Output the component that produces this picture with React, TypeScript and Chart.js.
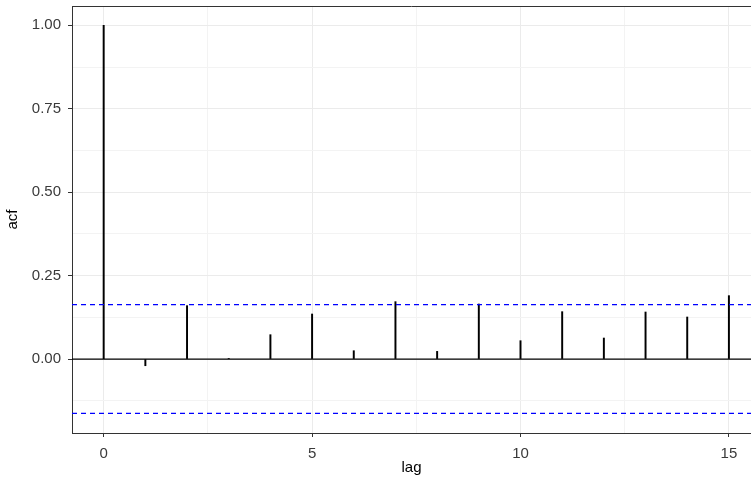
import React, { useEffect, useRef } from 'react';
import { Chart, registerables } from 'chart.js';

Chart.register(...registerables);

const lags = [0, 1, 2, 3, 4, 5, 6, 7, 8, 9, 10, 11, 12, 13, 14, 15];
const acfValues = [1.0, -0.02, 0.16, 0.002, 0.073, 0.135, 0.025, 0.172, 0.023, 0.165, 0.055, 0.142, 0.063, 0.141, 0.126, 0.19];
const ciBound = 0.163;
const xMajorTicks = [0, 5, 10, 15];
const xMinorTicks = [2.5, 7.5, 12.5];
const yMajorTicks = [0, 0.25, 0.5, 0.75, 1.0];
const yMinorTicks = [-0.125, 0.125, 0.375, 0.625, 0.875];
const xLimits = [-0.76, 15.53];
const yLimits = [-0.2216, 1.058];

const FONT = '"Liberation Sans", Arial, Helvetica, sans-serif';

const topBorder = {
  id: 'topBorder',
  afterDraw(chart: any) {
    const { ctx, chartArea } = chart;
    ctx.save();
    ctx.strokeStyle = '#333333';
    ctx.lineWidth = 1;
    ctx.beginPath();
    ctx.moveTo(chartArea.left, chartArea.top + 0.5);
    ctx.lineTo(chartArea.right, chartArea.top + 0.5);
    ctx.stroke();
    ctx.restore();
  },
};

export default function App() {
  const ref = useRef<HTMLCanvasElement | null>(null);
  useEffect(() => {
    if (!ref.current) return;
    const isMajorX = (v: number) => xMajorTicks.includes(v);
    const isMajorY = (v: number) => yMajorTicks.some((t) => Math.abs(t - v) < 1e-9);
    const chart = new Chart(ref.current, {
      type: 'bar',
      data: {
        datasets: [
          {
            type: 'line',
            data: [
              { x: xLimits[0], y: ciBound },
              { x: xLimits[1], y: ciBound },
            ],
            borderColor: '#0000ff',
            borderWidth: 1.2,
            borderDash: [5, 4],
            pointRadius: 0,
            order: 0,
          },
          {
            type: 'line',
            data: [
              { x: xLimits[0], y: -ciBound },
              { x: xLimits[1], y: -ciBound },
            ],
            borderColor: '#0000ff',
            borderWidth: 1.2,
            borderDash: [5, 4],
            pointRadius: 0,
            order: 0,
          },
          {
            type: 'line',
            data: [
              { x: xLimits[0], y: 0 },
              { x: xLimits[1], y: 0 },
            ],
            borderColor: '#000000',
            borderWidth: 1.2,
            pointRadius: 0,
            order: 1,
          },
          {
            type: 'bar',
            data: lags.map((l, i) => ({ x: l, y: acfValues[i] })),
            backgroundColor: '#000000',
            borderWidth: 0,
            barThickness: 1.3,
            order: 2,
          } as any,
        ],
      },
      options: {
        responsive: false,
        animation: false,
        layout: { padding: { top: 6, left: 0, right: 0, bottom: 0 } },
        plugins: { legend: { display: false }, tooltip: { enabled: false } },
        scales: {
          x: {
            type: 'linear',
            min: xLimits[0],
            max: xLimits[1],
            offset: false,
            afterBuildTicks: (s: any) => {
              s.ticks = [...xMajorTicks, ...xMinorTicks].sort((a, b) => a - b).map((v) => ({ value: v }));
            },
            afterFit: (s: any) => {
              s.height = 49;
              s.paddingLeft = 0;
              s.paddingRight = 0;
            },
            grid: {
              offset: false,
              color: (c: any) => (c.tick && isMajorX(c.tick.value) ? '#ebebeb' : '#f3f3f3'),
              lineWidth: 1,
              tickLength: 4,
              tickColor: (c: any) => (c.tick && isMajorX(c.tick.value) ? '#333333' : 'rgba(0,0,0,0)'),
            },
            border: { display: true, color: '#333333', width: 1 },
            ticks: {
              autoSkip: false,
              maxRotation: 0,
              padding: 8,
              color: '#3a3a3a',
              font: { family: FONT, size: 15 },
              callback: (v: any) => (isMajorX(Number(v)) ? String(v) : ''),
            },
            title: {
              display: true,
              text: 'lag',
              color: '#000000',
              font: { family: FONT, size: 15 },
              padding: { top: 0, bottom: 5 },
            },
          },
          y: {
            type: 'linear',
            min: yLimits[0],
            max: yLimits[1],
            afterBuildTicks: (s: any) => {
              s.ticks = [...yMajorTicks, ...yMinorTicks].sort((a, b) => a - b).map((v) => ({ value: v }));
            },
            afterFit: (s: any) => {
              s.width = 72;
              s.paddingTop = 0;
              s.paddingBottom = 0;
            },
            grid: {
              color: (c: any) => (c.tick && isMajorY(c.tick.value) ? '#ebebeb' : '#f3f3f3'),
              lineWidth: 1,
              tickLength: 4,
              tickColor: (c: any) => (c.tick && isMajorY(c.tick.value) ? '#333333' : 'rgba(0,0,0,0)'),
            },
            border: { display: true, color: '#333333', width: 1 },
            ticks: {
              autoSkip: false,
              padding: 7,
              color: '#3a3a3a',
              font: { family: FONT, size: 15 },
              callback: (v: any) => (isMajorY(Number(v)) ? Number(v).toFixed(2) : ''),
            },
            title: {
              display: true,
              text: 'acf',
              color: '#000000',
              font: { family: FONT, size: 15 },
              padding: { top: 4, bottom: 0 },
            },
          },
        },
      },
      plugins: [topBorder],
    } as any);
    return () => chart.destroy();
  }, []);
  return (
    <div style={{ position: 'fixed', left: 0, top: 0, width: 751, height: 482, background: '#ffffff' }}>
      <canvas ref={ref} width={751} height={482} style={{ display: 'block' }} />
    </div>
  );
}
